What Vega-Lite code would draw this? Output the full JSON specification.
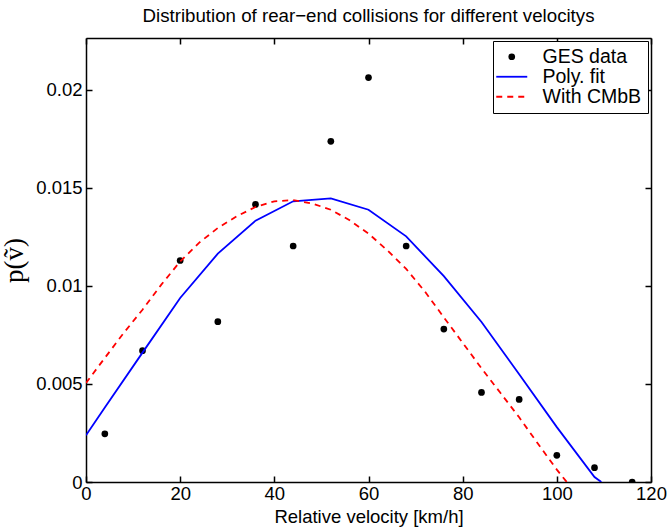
{
  "$schema": "https://vega.github.io/schema/vega-lite/v6.json",
  "width": 565,
  "height": 444,
  "autosize": {"type": "none"},
  "padding": {"left": 86, "top": 38, "right": 16, "bottom": 47},
  "background": "white",
  "title": {
    "text": "Distribution of rear−end collisions for different velocitys",
    "fontSize": 18.7,
    "fontWeight": "normal",
    "font": "Liberation Sans",
    "color": "black",
    "baseline": "alphabetic",
    "offset": -3
  },
  "config": {
    "font": "Liberation Sans",
    "view": {"stroke": null},
    "axis": {
      "domainColor": "black",
      "domainWidth": 1.5,
      "tickColor": "black",
      "tickWidth": 1.5,
      "tickSize": -6,
      "labelFontSize": 18.5,
      "labelColor": "black",
      "labelFont": "Liberation Sans",
      "titleFontSize": 18.5,
      "titleFontWeight": "normal",
      "titleColor": "black",
      "titleFont": "Liberation Sans",
      "grid": false,
      "labelFlush": false,
      "labelOverlap": false
    },
    "axisBottom": {"labelPadding": 8.5, "titlePadding": 4},
    "axisLeft": {"labelPadding": 10},
    "legend": {
      "orient": "top-right",
      "offset": 3,
      "title": null,
      "strokeColor": "black",
      "fillColor": "white",
      "padding": 6,
      "labelFontSize": 19.5,
      "labelColor": "black",
      "labelFont": "Liberation Sans",
      "labelLimit": 300,
      "symbolSize": 961,
      "symbolType": "stroke",
      "symbolStrokeWidth": 1.8,
      "symbolOffset": 3,
      "labelOffset": 21,
      "rowPadding": -9.3
    }
  },
  "data": {
    "values": [
      {"s": "GES data", "x": 4, "y": 0.00246},
      {"s": "GES data", "x": 12, "y": 0.0067},
      {"s": "GES data", "x": 20, "y": 0.0113},
      {"s": "GES data", "x": 28, "y": 0.00818},
      {"s": "GES data", "x": 36, "y": 0.01416},
      {"s": "GES data", "x": 44, "y": 0.01204},
      {"s": "GES data", "x": 52, "y": 0.01738},
      {"s": "GES data", "x": 60, "y": 0.02063},
      {"s": "GES data", "x": 68, "y": 0.01204},
      {"s": "GES data", "x": 76, "y": 0.0078},
      {"s": "GES data", "x": 84, "y": 0.00457},
      {"s": "GES data", "x": 92, "y": 0.00421},
      {"s": "GES data", "x": 100, "y": 0.00136},
      {"s": "GES data", "x": 108, "y": 0.00073},
      {"s": "GES data", "x": 116, "y": 0},
      {"s": "Poly. fit", "x": 0, "y": 0.00238},
      {"s": "Poly. fit", "x": 4, "y": 0.0038},
      {"s": "Poly. fit", "x": 12, "y": 0.0066},
      {"s": "Poly. fit", "x": 20, "y": 0.00939},
      {"s": "Poly. fit", "x": 28, "y": 0.01165},
      {"s": "Poly. fit", "x": 36, "y": 0.01333},
      {"s": "Poly. fit", "x": 44, "y": 0.01432},
      {"s": "Poly. fit", "x": 52, "y": 0.01447},
      {"s": "Poly. fit", "x": 60, "y": 0.01389},
      {"s": "Poly. fit", "x": 68, "y": 0.01253},
      {"s": "Poly. fit", "x": 76, "y": 0.0105},
      {"s": "Poly. fit", "x": 84, "y": 0.00816},
      {"s": "Poly. fit", "x": 92, "y": 0.0055},
      {"s": "Poly. fit", "x": 100, "y": 0.0028},
      {"s": "Poly. fit", "x": 108, "y": 0.00025},
      {"s": "Poly. fit", "x": 109.45, "y": 0},
      {"s": "With CMbB", "x": 0, "y": 0.00505},
      {"s": "With CMbB", "x": 4, "y": 0.00633},
      {"s": "With CMbB", "x": 8, "y": 0.0076},
      {"s": "With CMbB", "x": 12, "y": 0.00879},
      {"s": "With CMbB", "x": 16, "y": 0.01007},
      {"s": "With CMbB", "x": 20, "y": 0.01125},
      {"s": "With CMbB", "x": 24, "y": 0.0122},
      {"s": "With CMbB", "x": 28, "y": 0.01296},
      {"s": "With CMbB", "x": 32, "y": 0.01355},
      {"s": "With CMbB", "x": 36, "y": 0.01403},
      {"s": "With CMbB", "x": 40, "y": 0.01432},
      {"s": "With CMbB", "x": 44, "y": 0.01438},
      {"s": "With CMbB", "x": 48, "y": 0.01421},
      {"s": "With CMbB", "x": 52, "y": 0.01389},
      {"s": "With CMbB", "x": 56, "y": 0.01335},
      {"s": "With CMbB", "x": 60, "y": 0.01267},
      {"s": "With CMbB", "x": 64, "y": 0.01182},
      {"s": "With CMbB", "x": 68, "y": 0.01087},
      {"s": "With CMbB", "x": 72, "y": 0.00971},
      {"s": "With CMbB", "x": 76, "y": 0.0084},
      {"s": "With CMbB", "x": 80, "y": 0.0071},
      {"s": "With CMbB", "x": 84, "y": 0.0058},
      {"s": "With CMbB", "x": 88, "y": 0.00455},
      {"s": "With CMbB", "x": 92, "y": 0.0033},
      {"s": "With CMbB", "x": 96, "y": 0.00195},
      {"s": "With CMbB", "x": 100, "y": 0.00063},
      {"s": "With CMbB", "x": 102.1, "y": 0}
    ]
  },
  "layer": [
    {
      "transform": [{"filter": "datum.s === 'GES data'"}],
      "mark": {"type": "point", "filled": true, "shape": "circle", "size": 45, "opacity": 1, "clip": true},
      "encoding": {
        "x": {
          "field": "x", "type": "quantitative",
          "scale": {"domain": [0, 120], "nice": false, "zero": false},
          "axis": {"orient": "bottom", "values": [0, 20, 40, 60, 80, 100, 120], "title": "Relative velocity [km/h]"}
        },
        "y": {
          "field": "y", "type": "quantitative",
          "scale": {"domain": [0, 0.02265], "nice": false, "zero": false},
          "axis": {"orient": "left", "values": [0, 0.005, 0.01, 0.015, 0.02], "format": "~g", "title": "p(ṽ)", "titleFont": "Liberation Serif", "titleFontSize": 27, "titlePadding": 7}
        },
        "color": {
          "field": "s", "type": "nominal",
          "scale": {"domain": ["GES data", "Poly. fit", "With CMbB"], "range": ["#000000", "#0000ff", "#ff0000"]},
          "legend": {
            "encoding": {
              "symbols": {
                "shape": {"value": {"expr": "datum.value === 'GES data' ? 'circle' : 'stroke'"}},
                "size": {"value": {"expr": "datum.value === 'GES data' ? 45 : 961"}},
                "fill": {"value": {"expr": "datum.value === 'GES data' ? 'black' : 'transparent'"}},
                "stroke": {"value": {"expr": "datum.value === 'GES data' ? 'black' : (datum.value === 'Poly. fit' ? '#0000ff' : '#ff0000')"}},
                "strokeDash": {"value": {"expr": "datum.value === 'With CMbB' ? [6, 5] : [100, 0]"}},
                "strokeWidth": {"value": {"expr": "datum.value === 'GES data' ? 0 : 1.8"}},
                "opacity": {"value": 1}
              }
            }
          }
        }
      }
    },
    {
      "transform": [{"filter": "datum.s === 'Poly. fit'"}],
      "mark": {"type": "line", "strokeWidth": 1.8, "clip": true},
      "encoding": {
        "x": {"field": "x", "type": "quantitative", "axis": {"orient": "top", "values": [0, 20, 40, 60, 80, 100, 120], "labels": false, "title": null}},
        "y": {"field": "y", "type": "quantitative", "axis": {"orient": "right", "values": [0, 0.005, 0.01, 0.015, 0.02], "labels": false, "title": null}},
        "color": {"field": "s", "type": "nominal"}
      }
    },
    {
      "transform": [{"filter": "datum.s === 'With CMbB'"}],
      "mark": {"type": "line", "strokeWidth": 1.8, "strokeDash": [6, 5], "clip": true},
      "encoding": {
        "x": {"field": "x", "type": "quantitative", "axis": null},
        "y": {"field": "y", "type": "quantitative", "axis": null},
        "color": {"field": "s", "type": "nominal"}
      }
    }
  ],
  "resolve": {"axis": {"x": "independent", "y": "independent"}}
}
